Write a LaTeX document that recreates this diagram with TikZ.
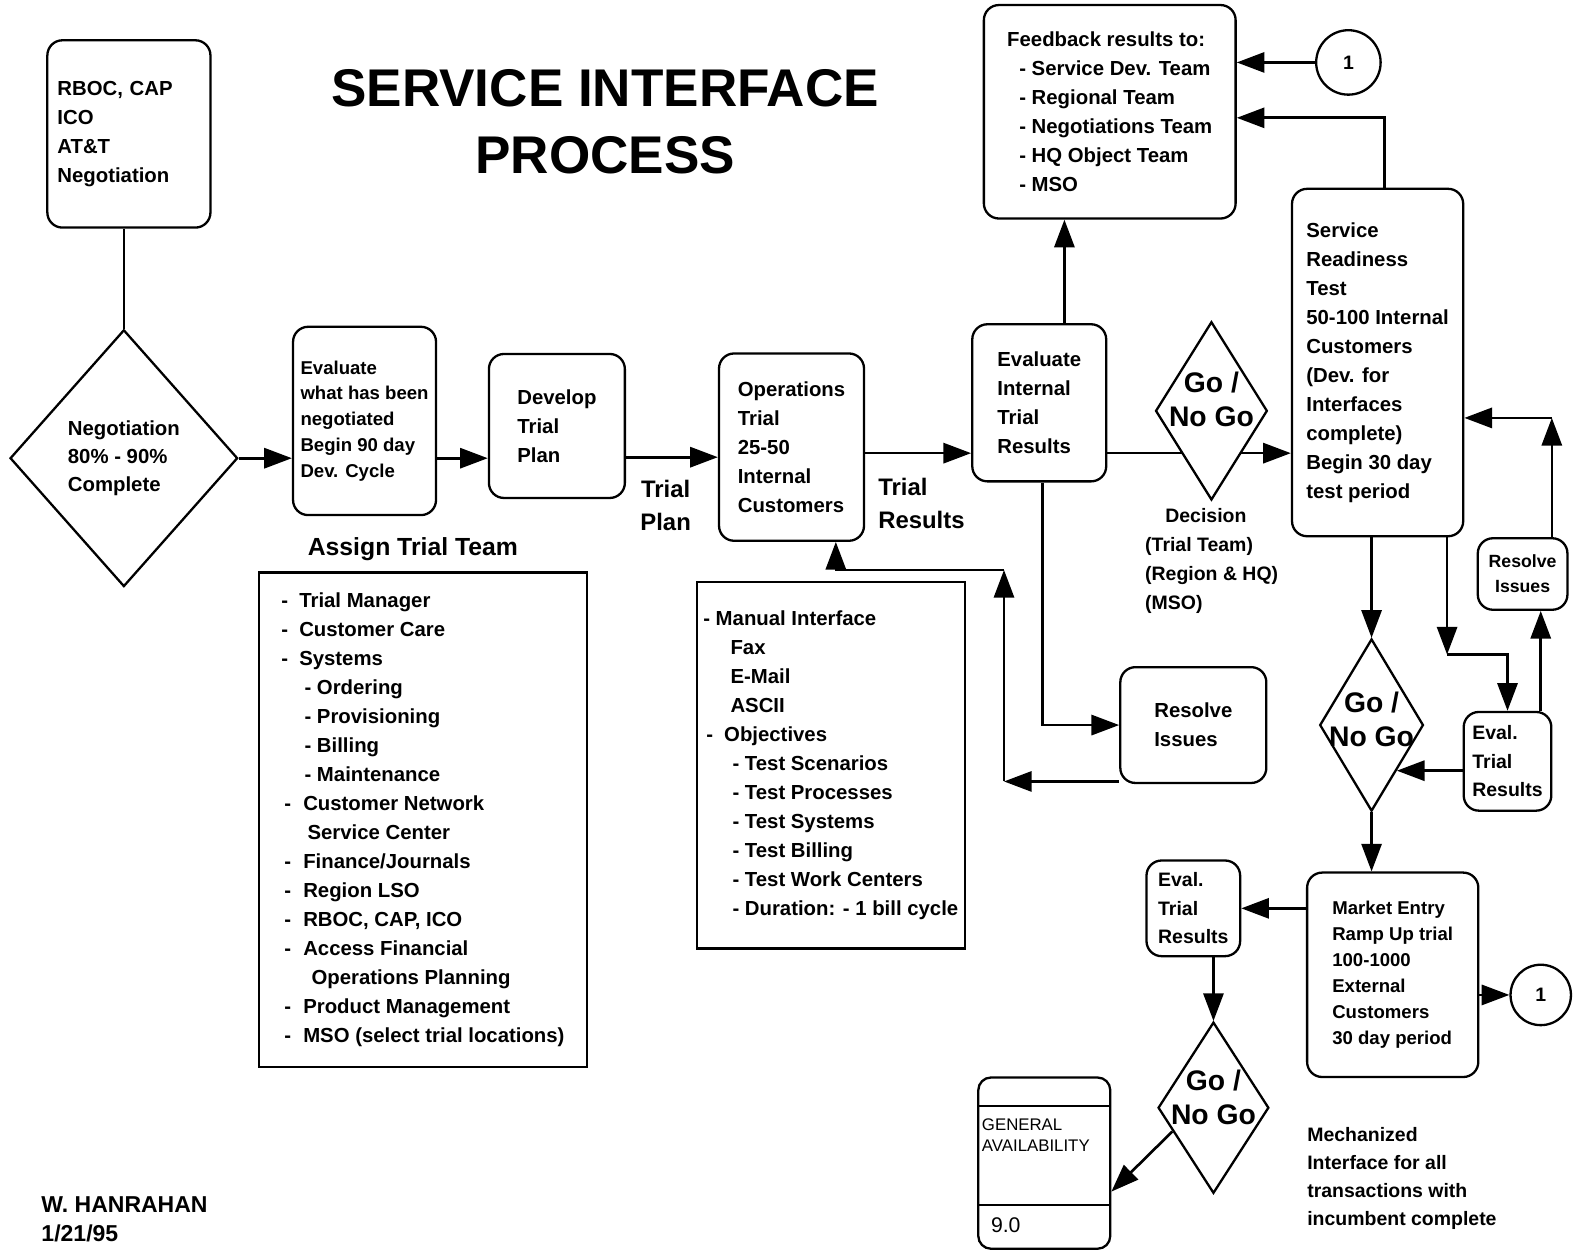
\documentclass[tikz,border=0pt]{standalone}
\usepackage{fontspec}
\setmainfont{Liberation Sans}
\usetikzlibrary{shapes.geometric, arrows.meta}
\newcommand{\boxfont}[2]{\fontsize{#1}{#2}\selectfont\bfseries}
\def\px{0.02cm}
\begin{document}
\begin{tikzpicture}[x=0.02cm, y=-0.02cm,
    box/.style={draw, line width=1.3pt, rounded corners=0.3cm, align=left, font=\boxfont{11.5}{16.4}},
    sqbox/.style={draw, line width=1.3pt, align=left, font=\boxfont{11.5}{16.4}},
    gonogo/.style={draw, diamond, line width=1.3pt, inner sep=0pt, fill=white},
    gotext/.style={font=\boxfont{16}{19.3}, align=center},
    lbl/.style={align=left, font=\boxfont{13.5}{18.7}},
    arr/.style={line width=1.5pt, -{Triangle[length=0.55cm,width=0.4cm]}},
    link/.style={line width=1.5pt}]

    % Page
    \fill[white] (0,0) rectangle (1568,1244);
    \useasboundingbox (0,0) rectangle (1568,1244);

    % Title
    \node[font=\boxfont{30}{38}, align=center] (title) at (601,121) {SERVICE INTERFACE\\PROCESS};

    % Negotiation
    \node[box, text width=2.84cm, inner xsep=0.2cm, minimum height=186*\px] (rboc) at (128,133) {RBOC, CAP\\ICO\\AT\&T\\Negotiation};
    \node[gonogo, minimum width=226*\px, minimum height=255*\px, align=left, font=\boxfont{11.5}{16}] (nego) at (123,455) {Negotiation\\80\% - 90\%\\Complete};

    % Trial development row
    \node[box, minimum width=142*\px, minimum height=187*\px, font=\boxfont{10.5}{14.6}] (evalneg) at (362,418) {Evaluate\\what has been\\negotiated\\Begin 90 day\\Dev. Cycle};
    \node[box, minimum width=135*\px, minimum height=143*\px] (develop) at (553,423) {Develop\\Trial\\Plan};
    \node[box, minimum width=144*\px, minimum height=186*\px] (opstrial) at (786,444) {Operations\\Trial\\25-50\\Internal\\Customers};
    \node[box, minimum width=133*\px, minimum height=156*\px] (evalint) at (1032,400) {Evaluate\\Internal\\Trial\\Results};
    \node[lbl, align=center] (trialplan) at (661,502) {Trial\\Plan};
    \node[lbl, anchor=west] (trialres) at (866,500) {Trial\\Results};

    % Trial team and interface lists
    \node[font=\boxfont{14}{17}] (assign) at (410,545) {Assign Trial Team};
    \node[sqbox, minimum width=326*\px, minimum height=491*\px] (team) at (420,814) {%
        -\hspace{0.22cm}Trial Manager\\
        -\hspace{0.22cm}Customer Care\\
        -\hspace{0.22cm}Systems\\
        \hspace*{0.46cm}- Ordering\\
        \hspace*{0.46cm}- Provisioning\\
        \hspace*{0.46cm}- Billing\\
        \hspace*{0.46cm}- Maintenance\\
        \hspace*{0.06cm}-\hspace{0.24cm}Customer Network\\
        \hspace*{0.52cm}Service Center\\
        \hspace*{0.06cm}-\hspace{0.24cm}Finance/Journals\\
        \hspace*{0.06cm}-\hspace{0.24cm}Region LSO\\
        \hspace*{0.06cm}-\hspace{0.24cm}RBOC, CAP, ICO\\
        \hspace*{0.06cm}-\hspace{0.24cm}Access Financial\\
        \hspace*{0.6cm}Operations Planning\\
        \hspace*{0.06cm}-\hspace{0.24cm}Product Management\\
        \hspace*{0.06cm}-\hspace{0.24cm}MSO (select trial locations)};
    \node[sqbox, minimum width=266*\px, minimum height=364*\px] (manual) at (825,760) {%
        - Manual Interface\\
        \hspace*{0.54cm}Fax\\
        \hspace*{0.54cm}E-Mail\\
        \hspace*{0.54cm}ASCII\\
        \hspace*{0.06cm}-\hspace{0.22cm}Objectives\\
        \hspace*{0.58cm}- Test Scenarios\\
        \hspace*{0.58cm}- Test Processes\\
        \hspace*{0.58cm}- Test Systems\\
        \hspace*{0.58cm}- Test Billing\\
        \hspace*{0.58cm}- Test Work Centers\\
        \hspace*{0.58cm}- Duration: - 1 bill cycle};

    % Feedback and readiness test
    \node[box, minimum width=250*\px, minimum height=212*\px] (feedback) at (1102,111) {Feedback results to:\\
        \hspace*{0.24cm}- Service Dev. Team\\
        \hspace*{0.24cm}- Regional Team\\
        \hspace*{0.24cm}- Negotiations Team\\
        \hspace*{0.24cm}- HQ Object Team\\
        \hspace*{0.24cm}- MSO};
    \node[circle, draw, line width=1.3pt, minimum size=64*\px, font=\boxfont{11}{13}] (circletop) at (1339,62) {1};
    \node[box, minimum width=170*\px, minimum height=345*\px] (readiness) at (1368,360) {Service\\Readiness\\Test\\50-100 Internal\\Customers\\(Dev. for\\Interfaces\\complete)\\Begin 30 day\\test period};
    \node[box, minimum width=145*\px, minimum height=115*\px] (resolve) at (1185,720) {Resolve\\Issues};
    \node[align=left, font=\boxfont{11}{16.3}, anchor=west] (decision) at (1131,557) {\hspace*{0.4cm}Decision\\(Trial Team)\\(Region \& HQ)\\(MSO)};

    % Bend points
    \coordinate (row) at (0,454);
    \coordinate (row2) at (0,450);
    \coordinate (upfb) at (1057,0);
    \coordinate (downres) at (1035,0);
    \coordinate (retA) at (997,776);
    \coordinate (retB) at (997,566);
    \coordinate (retC) at (830,566);
    \coordinate (srtup) at (1375,117);
    \coordinate (srtdn) at (1437,650);
    \coordinate (resup) at (1530,0);
    \coordinate (resret) at (1541,415);

    % Main flow
    \draw[link] (nego.north) -- (nego.north |- rboc.south);
    \draw[arr] (nego.east) -- (evalneg.west |- nego.east);
    \draw[arr] (evalneg.east |- nego.east) -- (develop.west |- nego.east);
    \draw[arr] (develop.east |- row) -- (opstrial.west |- row);
    \draw[arr] (opstrial.east |- row2) -- (evalint.west |- row2);
    \draw[arr] (evalint.north -| upfb) -- (feedback.south -| upfb);
    \draw[arr] (evalint.east |- row2) -- (readiness.west |- row2);
    \node[gonogo, minimum width=111*\px, minimum height=177*\px,
        label={[gotext, yshift=0.22cm]center:Go /\\No Go}] (gonogo1) at (1203,408) {};

    % Issue loop back to the trial
    \draw[arr] (evalint.south -| downres) |- (resolve.west);
    \draw[arr] (resolve.west |- retA) -- (retA);
    \draw[arr] (retA) -- (retB);
    \draw[arr] (retB) -- (retC) -- (opstrial.south -| retC);

    % Feedback inputs
    \draw[arr] (circletop) -- (feedback.east |- circletop);
    \draw[arr] (readiness.north -| srtup) |- (feedback.east |- srtup);

    % Readiness test loop
    \node[box, minimum width=89*\px, minimum height=71*\px, align=center, font=\boxfont{10}{14.2}] (resolvesm) at (1512,570) {Resolve\\Issues};
    \node[box, minimum width=87*\px, minimum height=98*\px, font=\boxfont{11}{16}] (evaltrial) at (1497,756) {Eval.\\Trial\\Results};
    \node[gonogo, minimum width=103*\px, minimum height=171*\px,
        label={[gotext, yshift=0.12cm]center:Go /\\No Go}] (gonogo2) at (1362,720) {};
    \draw[arr] (readiness.south -| gonogo2) -- (gonogo2.north);
    \draw[arr] (readiness.south -| srtdn) -- (srtdn);
    \draw[arr] (srtdn) -| (evaltrial.north);
    \draw[arr] (evaltrial.north -| resup) -- (resolvesm.south -| resup);
    \draw[arr] (resolvesm.north -| resret) -- (resret);
    \draw[arr] (resret) -- (readiness.east |- resret);
    \draw[arr] (evaltrial.west |- gonogo2.-61) -- (gonogo2.-61);

    % Market entry
    \node[box, minimum width=170*\px, minimum height=203*\px, font=\boxfont{10.5}{14.7}] (market) at (1383,968) {Market Entry\\Ramp Up trial\\100-1000\\External\\Customers\\30 day period};
    \node[circle, draw, line width=1.3pt, minimum size=60*\px, font=\boxfont{11}{13}] (circlebot) at (1530,988) {1};
    \node[box, minimum width=93*\px, minimum height=95*\px, font=\boxfont{11}{16}] (evalmkt) at (1185,902) {Eval.\\Trial\\Results};
    \node[gonogo, minimum width=110*\px, minimum height=170*\px,
        label={[gotext, yshift=0.2cm]center:Go /\\No Go}] (gonogo3) at (1205,1100) {};
    \draw[arr] (gonogo2.south) -- (market.north -| gonogo2.south);
    \draw[arr] (market.east |- circlebot) -- (circlebot);
    \draw[arr] (market.west |- evalmkt.east) -- (evalmkt.east);
    \draw[arr] (evalmkt.south -| gonogo3.north) -- (gonogo3.north);

    % General availability
    \node[draw, line width=1.3pt, rounded corners=0.25cm, minimum width=131*\px, minimum height=170*\px] (genavail) at (1037,1155) {};
    \draw[line width=1.1pt] (972,1098) -- (1103,1098);
    \draw[line width=1.1pt] (972,1197) -- (1103,1197);
    \node[anchor=west, align=left, inner sep=1pt, font=\fontsize{9.5}{12}\selectfont] (gatext) at (973,1127) {GENERAL\\AVAILABILITY};
    \node[anchor=west, inner sep=1pt, font=\fontsize{12}{14}\selectfont] (garel) at (982,1217) {9.0};
    \draw[arr] (gonogo3.210) -- (genavail.-23);

    % Notes
    \node[anchor=west, align=left, font=\boxfont{11}{15.9}] (mech) at (1292,1170) {Mechanized\\Interface for all\\transactions with\\incumbent complete};
    \node[anchor=west, align=left, font=\boxfont{13}{16.4}] (author) at (35,1211) {W. HANRAHAN\\1/21/95};
\end{tikzpicture}
\end{document}
